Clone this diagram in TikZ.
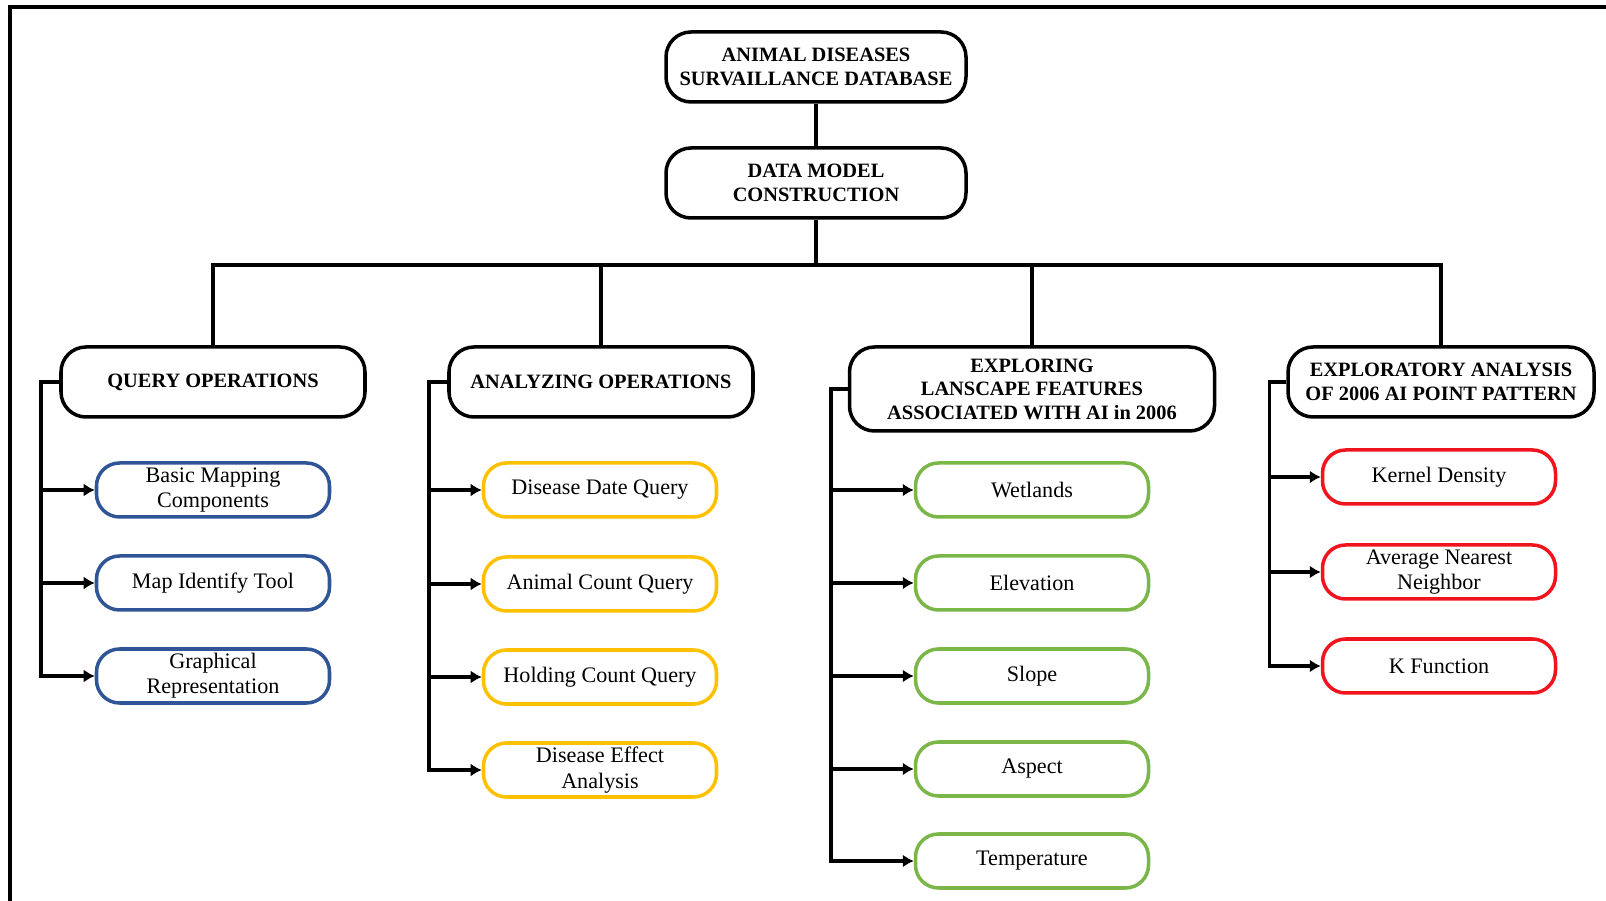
\documentclass[tikz,border=0pt]{standalone}
\usepackage{fontspec}
\setmainfont{Liberation Serif}
\usetikzlibrary{arrows.meta}

\definecolor{azul}{HTML}{2F5597}
\definecolor{ouro}{HTML}{FFC000}
\definecolor{verde}{HTML}{7AB648}
\definecolor{vermelho}{HTML}{F0141E}

\begin{document}
\begin{tikzpicture}[x=0.1mm, y=-0.1mm,
  cabec/.style={draw, line width=1pt, rounded corners=2.5mm, align=center, inner sep=0pt,
    font=\fontsize{5.8}{6.7}\selectfont\bfseries, minimum width=3.0cm, minimum height=0.7cm},
  item/.style={draw, line width=1pt, rounded corners=2.3mm, align=center, inner sep=0pt,
    font=\fontsize{6.3}{7.2}\selectfont, minimum width=2.33cm, minimum height=0.54cm},
  linha/.style={line width=1pt},
  seta/.style={line width=1pt, -{Latex[length=1.1mm, width=1.3mm]}}]

\useasboundingbox (0,0) rectangle (1606,901);

% Moldura
\draw[line width=1pt] (10,901) -- (10,7) -- (1606,7);

% Topo
\node[cabec] (base) at (816,67) {ANIMAL DISEASES\\SURVAILLANCE DATABASE};
\node[cabec] (modelo) at (816,183) {DATA MODEL\\CONSTRUCTION};
\coordinate (barra) at (816,265);

\draw[linha] (base) -- (modelo);
\draw[linha] (modelo) -- (barra);

% Cabeçalhos dos ramos
\node[cabec, minimum width=3.04cm] (consulta) at (213,382) {QUERY OPERATIONS};
\node[cabec, minimum width=3.04cm] (analise) at (601,382) {ANALYZING OPERATIONS};
\node[cabec, minimum width=3.65cm, minimum height=0.84cm] (paisagem) at (1032,389)
  {EXPLORING\\LANSCAPE FEATURES\\ASSOCIATED WITH AI in 2006};
\node[cabec, minimum width=3.06cm] (padrao) at (1441,382) {EXPLORATORY ANALYSIS\\OF 2006 AI POINT PATTERN};

\draw[linha] (consulta.north) |- (barra) -| (padrao.north);
\draw[linha] (analise.north) -- (analise.north |- barra);
\draw[linha] (paisagem.north) -- (paisagem.north |- barra);

% Ramo 1
\node[item, draw=azul] (c1) at (213,490) {Basic Mapping\\Components};
\node[item, draw=azul] (c2) at (213,583) {Map Identify Tool};
\node[item, draw=azul] (c3) at (213,676) {Graphical\\Representation};
\foreach \f in {c1,c2,c3}
  \draw[seta] (consulta.west) -- ++(-18,0) |- (\f.west);

% Ramo 2
\node[item, draw=ouro] (a1) at (600,490) {Disease Date Query};
\node[item, draw=ouro] (a2) at (600,584) {Animal Count Query};
\node[item, draw=ouro] (a3) at (600,677) {Holding Count Query};
\node[item, draw=ouro] (a4) at (600,770) {Disease Effect\\Analysis};
\foreach \f in {a1,a2,a3,a4}
  \draw[seta] (analise.west) -- ++(-18,0) |- (\f.west);

% Ramo 3
\node[item, draw=verde] (p1) at (1032,490) {Wetlands};
\node[item, draw=verde] (p2) at (1032,583) {Elevation};
\node[item, draw=verde] (p3) at (1032,676) {Slope};
\node[item, draw=verde] (p4) at (1032,769) {Aspect};
\node[item, draw=verde] (p5) at (1032,861) {Temperature};
\foreach \f in {p1,p2,p3,p4,p5}
  \draw[seta] (paisagem.west) -- ++(-17,0) |- (\f.west);

% Ramo 4
\node[item, draw=vermelho] (k1) at (1439,477) {Kernel Density};
\node[item, draw=vermelho] (k2) at (1439,572) {Average Nearest\\Neighbor};
\node[item, draw=vermelho] (k3) at (1439,666) {K Function};
\foreach \f in {k1,k2,k3}
  \draw[seta] (padrao.west) -- ++(-17,0) |- (\f.west);

\end{tikzpicture}
\end{document}
